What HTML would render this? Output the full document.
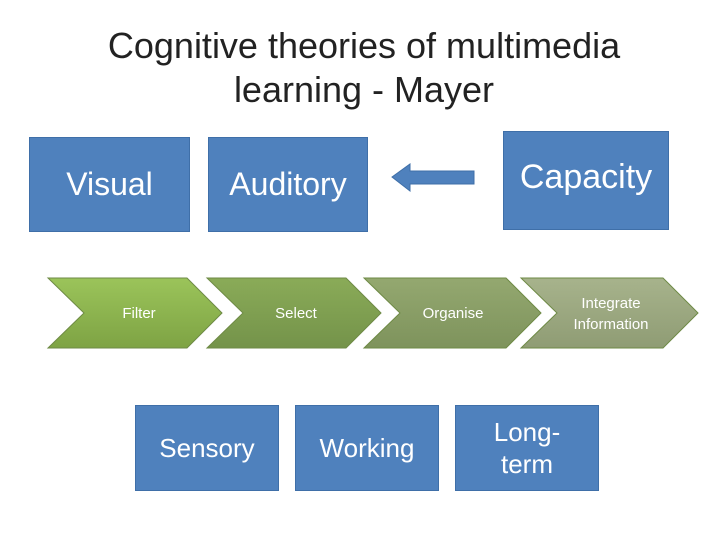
<!DOCTYPE html>
<html><head><style>
body{margin:0;width:728px;height:546px;background:#fff;overflow:hidden;font-family:"Liberation Sans",sans-serif;}
.t{position:absolute;left:0;width:728px;text-align:center;font-size:36px;color:#222;line-height:44px;top:24px;}
.b{position:absolute;background:#4f81bd;border:1px solid #3f6fa8;color:#fff;display:flex;align-items:center;justify-content:center;text-align:center;}
</style></head><body>
<div class="t">Cognitive theories of multimedia<br>learning - Mayer</div>
<div class="b" style="left:29px;top:137px;width:159px;height:93px;font-size:32px;">Visual</div>
<div class="b" style="left:208px;top:137px;width:158px;height:93px;font-size:32px;">Auditory</div>
<div class="b" style="left:503px;top:131px;width:166px;height:99px;font-size:34px;padding-bottom:6px;box-sizing:border-box;">Capacity</div>
<svg style="position:absolute;left:0;top:0" width="728" height="546">
<defs>
<linearGradient id="g1" x1="0" y1="0" x2="0" y2="1"><stop offset="0" stop-color="#9bc45a"/><stop offset="1" stop-color="#7ea344"/></linearGradient>
<linearGradient id="g2" x1="0" y1="0" x2="0" y2="1"><stop offset="0" stop-color="#8aab58"/><stop offset="1" stop-color="#74934a"/></linearGradient>
<linearGradient id="g3" x1="0" y1="0" x2="0" y2="1"><stop offset="0" stop-color="#94a870"/><stop offset="1" stop-color="#7e935c"/></linearGradient>
<linearGradient id="g4" x1="0" y1="0" x2="0" y2="1"><stop offset="0" stop-color="#a7b38c"/><stop offset="1" stop-color="#8f9c74"/></linearGradient>
</defs>
<polygon points="392,177 410,164 410,171 474,171 474,184 410,184 410,191" fill="#4f81bd" stroke="#3f6fa8"/>
<g stroke="#6e8a45" stroke-width="1">
<polygon points="48,278 187,278 222,313 187,348 48,348 84,313" fill="url(#g1)"/>
<polygon points="207,278 346,278 381,313 346,348 207,348 243,313" fill="url(#g2)"/>
<polygon points="364,278 506,278 541,313 506,348 364,348 400,313" fill="url(#g3)"/>
<polygon points="521,278 663,278 698,313 663,348 521,348 557,313" fill="url(#g4)"/>
</g>
<g fill="#fff" font-family="Liberation Sans, sans-serif" font-size="15" text-anchor="middle">
<text x="139" y="318">Filter</text>
<text x="296" y="318">Select</text>
<text x="453" y="318">Organise</text>
<text x="611" y="308">Integrate</text>
<text x="611" y="329">Information</text>
</g>
</svg>
<div class="b" style="left:135px;top:405px;width:142px;height:84px;font-size:26px;">Sensory</div>
<div class="b" style="left:295px;top:405px;width:142px;height:84px;font-size:26px;">Working</div>
<div class="b" style="left:455px;top:405px;width:142px;height:84px;font-size:26px;line-height:32px;">Long-<br>term</div>
</body></html>
